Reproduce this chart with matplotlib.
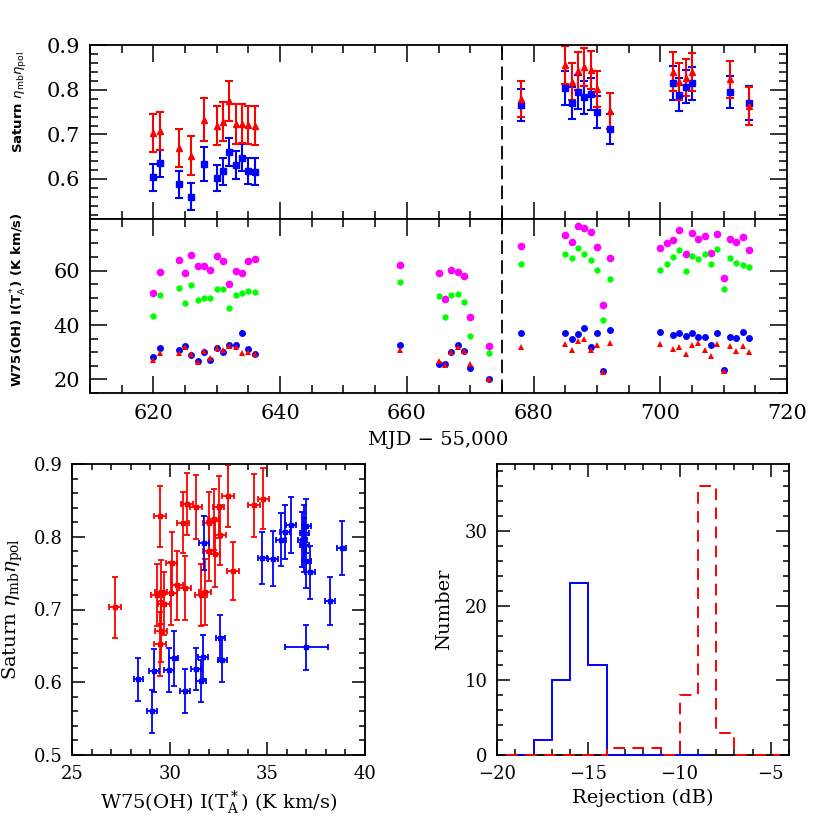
import numpy as np
import matplotlib.pyplot as plt
from matplotlib.ticker import MultipleLocator

plt.rcParams['font.family'] = ['DejaVu Serif']
plt.rcParams['mathtext.fontset'] = 'dejavuserif'

nan = np.nan

# Saturn efficiency (top panel + scatter y values)
mjd_sat = [620, 621, 624, 626, 628, 630, 631, 632, 633, 634, 635, 636,
           678, 685, 686, 687, 688, 689, 690, 692, 702, 703, 704, 705, 711, 714]
sat_blue = [0.604, 0.635, 0.588, 0.560, 0.633, 0.602, 0.617, 0.661, 0.631, 0.648, 0.618, 0.616,
            0.766, 0.805, 0.771, 0.796, 0.784, 0.791, 0.751, 0.712, 0.816, 0.789, 0.807, 0.815, 0.796, 0.770]
sat_blue_err = [0.030, 0.030, 0.030, 0.030, 0.038, 0.029, 0.030, 0.032, 0.031, 0.031, 0.029, 0.030,
                0.036, 0.038, 0.036, 0.038, 0.037, 0.037, 0.036, 0.033, 0.039, 0.037, 0.037, 0.037, 0.036, 0.038]
sat_red = [0.703, 0.708, 0.670, 0.652, 0.733, 0.720, 0.729, 0.776, 0.724, 0.724, 0.722, 0.720,
           0.780, 0.856, 0.819, 0.843, 0.852, 0.845, 0.802, 0.753, 0.841, 0.819, 0.828, 0.841, 0.824, 0.764]
sat_red_err = [0.042, 0.043, 0.042, 0.044, 0.048, 0.043, 0.044, 0.045, 0.045, 0.044, 0.043, 0.043,
               0.041, 0.043, 0.042, 0.043, 0.042, 0.042, 0.041, 0.040, 0.044, 0.042, 0.042, 0.043, 0.042, 0.043]

# W75(OH) integrated intensity (middle panel + scatter x values)
mjd_int = [620, 621, 624, 625, 626, 627, 628, 629, 630, 631, 632, 633, 634, 635, 636,
           659, 665, 666, 667, 668, 669, 670, 673,
           678, 685, 686, 687, 688, 689, 690, 691, 692,
           700, 701, 702, 703, 704, 705, 706, 707, 708, 709, 710, 711, 712, 713, 714]
int_magenta = [51.7, 59.6, 63.9, 59.3, 65.8, 61.7, 61.7, 60.3, 65.4, 63.7, 55.2, 59.9, 59.0, 63.7, 64.2,
               62.1, 59.3, 49.7, 60.4, 59.5, 58.2, 43.1, 32.2,
               69.1, 73.1, 70.4, 76.6, 75.6, 74.1, 68.6, 47.4, 64.8,
               68.4, 70.1, 71.3, 75.0, 66.3, 74.0, 71.7, 72.8, 66.4, 73.4, 57.4, 71.7, 70.4, 72.5, 67.7]
int_green = [43.4, 51.0, 53.8, 48.1, 54.7, 49.1, 50.0, 49.8, 53.2, 53.2, 46.2, 51.1, 51.9, 52.6, 52.3,
             55.7, 50.8, 43.1, 51.1, 51.5, 48.6, 36.1, 29.6,
             62.6, 66.3, 64.8, 68.4, 66.3, 63.9, 60.1, 41.7, 57.1,
             60.3, 62.5, 64.9, 67.6, 59.9, 65.5, 64.3, 66.1, 62.5, 68.0, 53.3, 64.6, 62.7, 62.1, 61.2]
int_blue = [28.4, 31.7, 30.8, 32.3, 29.1, 26.8, 30.2, 27.2, 31.6, 29.95, 32.6, 32.7, 37.0, 31.35, 29.2,
            32.5, 25.7, 25.7, 30.2, 32.6, 30.6, 24.3, 20.0,
            37.0, 36.9, 34.75, 36.8, 38.8, 31.75, 37.2, 23.0, 38.2,
            37.3, nan, 36.2, 36.9, 35.9, 37.0, 35.7, 35.7, 32.5, 37.0, 23.5, 35.7, 35.1, 37.3, 35.3]
int_blue_err = [0.25, 0.25, 0.25, 0.25, 0.25, 0.25, 0.25, 0.25, 0.25, 0.25, 0.25, 0.25, 1.1, 0.25, 0.25,
                0.25, 0.25, 0.25, 0.25, 0.25, 0.25, 0.25, 0.25,
                0.25, 0.25, 0.25, 0.25, 0.25, 0.25, 0.25, 0.25, 0.25,
                0.25, 0.25, 0.25, 0.25, 0.25, 0.25, 0.25, 0.25, 0.25, 0.25, 0.25, 0.25, 0.25, 0.25, 0.25]
int_red = [27.2, 29.7, 29.55, 32.0, 29.5, 26.5, 30.4, 28.0, 31.6, 30.8, 32.3, 31.8, 29.55, 30.06, 29.35,
           30.8, 26.9, 25.3, 30.2, 31.8, 30.4, 25.7, 20.2,
           32.0, 33.0, 30.7, 34.3, 34.8, 30.9, 32.6, 22.8, 33.25,
           33.0, nan, 31.35, 32.0, 29.5, 32.5, 33.3, 30.8, 28.7, 33.0, 23.0, 32.25, 30.4, 32.4, 30.1]
int_red_err = [0.3] * len(mjd_int)

# rejection histograms (dB)
rej_blue_edges = [-19.5, -18, -17, -16, -15, -14, -8.5]
rej_blue_counts = [0, 2, 10, 23, 12, 0]
rej_red_edges = [-19.5, -14, -13, -12, -11, -10, -9, -8, -7, -4.5]
rej_red_counts = [0, 1, 1, 1, 0, 8, 36, 3, 0]

BLUE, RED, MAG, GRN = '#0000ff', '#ff0000', '#ff00ff', '#00ff00'

fig = plt.figure(figsize=(8.3, 8.3), dpi=100)


def rect(x0, y0, x1, y1):
    return [x0 / 830, 1 - y1 / 830, (x1 - x0) / 830, (y1 - y0) / 830]


def style(ax, xmaj, xmin, ymaj, ymin, big=12, small=6, fs=14):
    ax.xaxis.set_major_locator(MultipleLocator(xmaj))
    ax.xaxis.set_minor_locator(MultipleLocator(xmin))
    ax.yaxis.set_major_locator(MultipleLocator(ymaj))
    ax.yaxis.set_minor_locator(MultipleLocator(ymin))
    ax.tick_params(which='both', direction='in', top=True, right=True,
                   width=1.1, labelsize=fs, pad=7)
    ax.tick_params(which='major', length=big)
    ax.tick_params(which='minor', length=small)
    for s in ax.spines.values():
        s.set_linewidth(1.3)


ax_top = fig.add_axes(rect(90, 45.5, 787, 219))
ax_mid = fig.add_axes(rect(90, 219, 787, 393))
ax_sc = fig.add_axes(rect(72, 464, 365, 755))
ax_h = fig.add_axes(rect(497, 464, 789, 755))

# top panel
ax_top.errorbar(mjd_sat, sat_blue, yerr=sat_blue_err, fmt='s', color=BLUE, ms=4,
                elinewidth=1.5, capsize=3, capthick=1.5)
ax_top.errorbar(mjd_sat, sat_red, yerr=sat_red_err, fmt='^', color=RED, ms=4.5,
                elinewidth=1.5, capsize=3, capthick=1.5)
ax_top.set_xlim(610, 720)
ax_top.set_ylim(0.51, 0.9)
style(ax_top, 20, 5, 0.1, 0.02, fs=15)
ax_top.tick_params(labelbottom=False)
ax_top.set_yticks([0.6, 0.7, 0.8, 0.9])
ax_top.axvline(675, color='k', lw=1.3, ls=(0, (7.5, 3.5)))

# middle panel
ax_mid.plot(mjd_int, int_magenta, 'o', color=MAG, ms=5.5, mew=0)
ax_mid.plot(mjd_int, int_green, 'h', color=GRN, ms=5, mew=0)
ax_mid.errorbar(mjd_int, int_blue, yerr=int_blue_err, fmt='o', color=BLUE, ms=5, mew=0,
                elinewidth=1.5, capsize=2.5, capthick=1.5)
ax_mid.errorbar(mjd_int, int_red, yerr=int_red_err, fmt='^', color=RED, ms=4.5, mew=0,
                elinewidth=1.2, capsize=0)
ax_mid.set_xlim(610, 720)
ax_mid.set_ylim(15, 79)
style(ax_mid, 20, 5, 20, 5, fs=15)
ax_mid.tick_params(axis='x', pad=8)
ax_mid.axvline(675, color='k', lw=1.3, ls=(0, (7.5, 3.5)))
ax_mid.set_xlabel('MJD \u2212 55,000', fontsize=14, labelpad=6)

fig.text(19 / 830, 1 - 102 / 830, r'Saturn $\eta_{\rm mb}\eta_{\rm pol}$', rotation=90,
         ha='center', va='center', fontsize=9.5, family='DejaVu Sans', weight='bold',
         math_fontfamily='dejavusans')
fig.text(19 / 830, 1 - 300 / 830, r'W75(OH) I(T$^*_{\rm A}$) (K km/s)', rotation=90,
         ha='center', va='center', fontsize=9.5, family='DejaVu Sans', weight='bold',
         math_fontfamily='dejavusans')

# scatter: Saturn efficiency vs W75(OH) intensity on matching days
idx = [mjd_int.index(d) for d in mjd_sat]
sc_bx = [int_blue[i] for i in idx]
sc_bxe = [int_blue_err[i] for i in idx]
sc_rx = [int_red[i] for i in idx]
sc_rxe = [int_red_err[i] for i in idx]
ax_sc.errorbar(sc_rx, sat_red, xerr=sc_rxe, yerr=sat_red_err, fmt='s', color=RED, ms=3.5,
               elinewidth=1.3, capsize=2.5, capthick=1.3)
ax_sc.errorbar(sc_bx, sat_blue, xerr=sc_bxe, yerr=sat_blue_err, fmt='s', color=BLUE, ms=3.5,
               elinewidth=1.3, capsize=2.5, capthick=1.3)
ax_sc.set_xlim(25, 40)
ax_sc.set_ylim(0.5, 0.9)
style(ax_sc, 5, 1, 0.1, 0.02, big=9.5, small=4.5, fs=13)
ax_sc.set_xlabel(r'W75(OH) I(T$^*_{\rm A}$) (K km/s)', fontsize=14, labelpad=4)
ax_sc.set_ylabel(r'Saturn $\eta_{\rm mb}\eta_{\rm pol}$', fontsize=14, labelpad=6)

# histogram of rejection (zero levels drawn on top of the axis line)
ax_h.stairs(rej_blue_counts, rej_blue_edges, baseline=None, color=BLUE, lw=1.4,
            clip_on=False, zorder=3)
ax_h.stairs(rej_red_counts, rej_red_edges, baseline=None, color=RED, lw=1.4,
            ls=(0, (6, 3.8)), clip_on=False, zorder=3.1)
ax_h.set_xlim(-20, -4)
ax_h.set_ylim(0, 39)
style(ax_h, 5, 1, 10, 2, big=9.5, small=4.5, fs=13)
ax_h.set_xlabel('Rejection (dB)', fontsize=14, labelpad=4)
ax_h.set_ylabel('Number', fontsize=14, labelpad=8)

fig.savefig('out.png', dpi=100)
